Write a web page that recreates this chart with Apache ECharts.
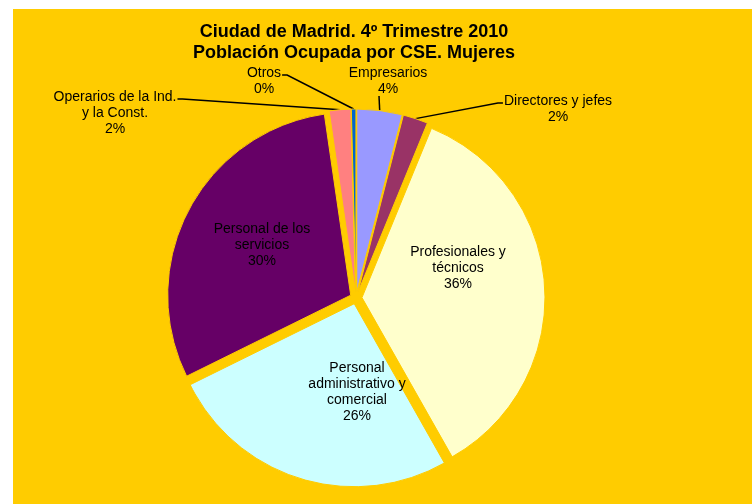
<!DOCTYPE html>
<html>
<head>
<meta charset="utf-8">
<script src="https://cdn.jsdelivr.net/npm/echarts@6/dist/echarts.min.js"></script>
<style>
  html,body{margin:0;padding:0;background:#fff;}
  #chart{position:absolute;left:13px;top:9px;width:739px;height:495px;background:#FFCC00;}
</style>
</head>
<body>
<div id="chart"></div>
<script>
var categories = ['Empresarios', 'Directores y jefes', 'Profesionales y\ntécnicos', 'Personal\nadministrativo y\ncomercial', 'Personal de los\nservicios', 'Operarios de la Ind.\ny la Const.', 'Otros'];
var shares = [4.0, 2.2, 35.6, 25.9, 30.0, 1.9, 0.4];
var colors = ['#9999FF', '#993366', '#FFFFCC', '#CCFFFF', '#660066', '#FF8080', '#0066CC'];
var outside = [true, true, false, false, false, true, true];

// label centres inside the chart box, and where the leader line meets the text
var labelPos = [[375, 72], [545, 100], [445, 259], [344, 383], [249, 236], [102, 104], [251, 72]];
var attach = ['bottom', 'left', null, null, null, 'right', 'right'];

var font = "'Liberation Sans', Arial, sans-serif";
var cx = 343, cy = 289, explode = 6;
var total = shares.reduce(function (s, v) { return s + v; }, 0);

function layoutLabel(p) {
  var i = p.dataIndex, xy = labelPos[i];
  var out = {x: xy[0], y: xy[1], align: 'center', verticalAlign: 'middle'};
  var pts = p.labelLinePoints;
  if (attach[i] && pts && pts.length) {
    var a = pts[0], w = p.labelRect.width, h = p.labelRect.height;
    var top = xy[1] - h / 2, firstY = top + 8;
    if (attach[i] === 'bottom') {
      out.labelLinePoints = [a, [xy[0] - 9, top + h - 1]];
    } else if (attach[i] === 'left') {
      out.labelLinePoints = [a, [xy[0] - w / 2 - 6, firstY + 2], [xy[0] - w / 2 - 1, firstY + 2]];
    } else {
      out.labelLinePoints = [a, [xy[0] + w / 2 + 6, firstY + 2], [xy[0] + w / 2 + 1, firstY + 2]];
    }
  }
  return out;
}

// one pie per slice, each pushed out along its own middle angle (exploded pie)
var series = [];
var cum = 0;
shares.forEach(function (v, k) {
  var mid = (cum + v / 2) / total * 2 * Math.PI;
  cum += v;
  series.push({
    type: 'pie',
    center: [cx + explode * Math.sin(mid), cy - explode * Math.cos(mid)],
    radius: 183,
    startAngle: 90,
    clockwise: true,
    avoidLabelOverlap: false,
    emphasis: {disabled: true},
    labelLayout: layoutLabel,
    data: categories.map(function (c, i) {
      var on = i === k;
      return {
        name: c,
        value: shares[i],
        itemStyle: on ? {color: colors[i], borderColor: '#FFCC00', borderWidth: 1} : {color: 'rgba(0,0,0,0)', borderWidth: 0},
        label: {
          show: on,
          position: outside[i] ? 'outside' : 'inside',
          fontFamily: font, fontSize: 14, color: '#000', lineHeight: 16, align: 'center',
          formatter: function (p) { return p.name + '\n' + Math.round(p.value) + '%'; }
        },
        labelLine: {show: on && outside[i], length: 10, length2: 10, lineStyle: {color: '#000', width: 1.5}}
      };
    })
  });
});

var ec = echarts.init(document.getElementById('chart'));
ec.setOption({
  backgroundColor: '#FFCC00',
  animation: false,
  title: {
    text: 'Ciudad de Madrid. 4º Trimestre 2010\nPoblación Ocupada por CSE. Mujeres',
    left: 336, top: 8, textAlign: 'center',
    textStyle: {fontFamily: font, fontSize: 18, fontWeight: 'bold', color: '#000', lineHeight: 21}
  },
  series: series
});
</script>
</body>
</html>
